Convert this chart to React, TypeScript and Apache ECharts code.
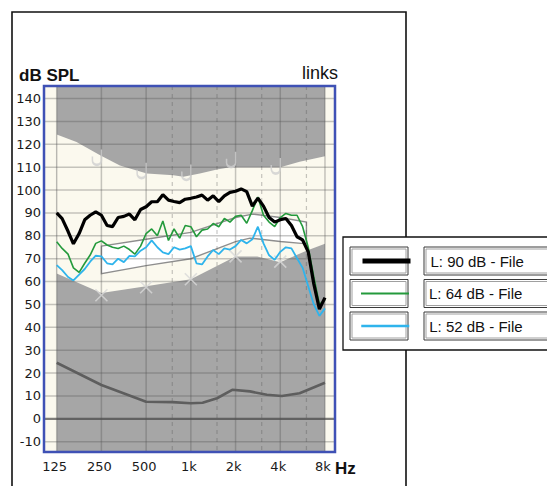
import React, { useEffect, useRef } from "react";
import * as echarts from "echarts";

// ---------- data ----------
const FREQ_TICKS = [125, 250, 500, 1000, 2000, 4000, 8000];
const FREQ_TICK_LABELS = ["125", "250", "500", "1k", "2k", "4k", "8k"];
const HALF_OCTAVE_FREQS = [750, 1500, 3000, 6000];
const DB_TICKS = [-10, 0, 10, 20, 30, 40, 50, 60, 70, 80, 90, 100, 110, 120, 130, 140];

const FREQS = [
  125, 136, 149, 162, 177, 193, 210, 229, 250, 273, 297, 324, 354, 386, 420, 459,
  500, 545, 595, 648, 707, 771, 841, 917, 1000, 1091, 1189, 1297, 1414, 1542, 1682, 1834,
  2000, 2181, 2378, 2594, 2828, 3084, 3364, 3668, 4000, 4362, 4757, 5187, 5657, 6169, 6727, 7336,
  8000,
];
const BLACK_DB = [
  90, 87.5, 82, 76.5, 81, 87, 89, 90.5, 89, 84.5, 84, 88, 88.5, 89.5, 87, 91.5,
  92.7, 94.9, 94.9, 98, 95.6, 95, 94.5, 96, 96.4, 97, 97.8, 95.6, 97.5, 95, 97.5, 99,
  99.5, 100.5, 99.3, 93, 96.5, 93, 88, 86, 87, 87.6, 84.5, 79.6, 78.2, 73, 59, 48,
  53,
];
const GREEN_DB = [
  77.4, 74.5, 72, 66, 64, 68, 71.6, 76.7, 77.8, 76, 75, 74.5, 75.5, 74, 72, 75.5,
  81, 83, 80, 86.5, 78, 83, 79, 84.5, 84, 79.6, 82.5, 83, 85.4, 84, 87.6, 86,
  88.5, 89, 85.5, 91, 97, 89, 86, 84, 88, 89.8, 89, 89, 84, 75, 62, 50,
  52,
];
const CYAN_DB = [
  67.2, 65, 62, 60.5, 63, 65.5, 68.7, 71.3, 71, 68, 67.5, 70, 68.5, 71.2, 71, 73.5,
  75, 78, 75, 72.8, 72, 75, 74, 74.5, 75.5, 68, 67.5, 71, 73.8, 72, 74.5, 74,
  75.5, 78.2, 76.7, 78.5, 84, 76.7, 71.5, 69.5, 73, 75, 74.5, 70.2, 66, 58, 50, 45,
  48.3,
];
const SERIES_NAMES = ["L: 90 dB - File", "L: 64 dB - File", "L: 52 dB - File"];

const THRESHOLD_FREQS = [125, 250, 500, 750, 1000, 1200, 1500, 1900, 2500, 3250, 4100, 5400, 8000];
const THRESHOLD_DB = [24.5, 14.8, 7.5, 7.3, 6.8, 7.0, 9, 12.7, 12, 10.5, 10, 11.2, 15.8];

const UCL_FREQS = [125, 170, 245, 333, 505, 763, 890, 1150, 1500, 1840, 4000, 5400, 8000];
const UCL_DB = [124.3, 121, 115.2, 110.8, 107.2, 106.5, 105.8, 107.2, 109, 110, 110, 112.4, 114.8];

const FLOOR_FREQS = [125, 250, 500, 1000, 2000, 2800, 4000, 6000, 8000];
const FLOOR_DB = [63.5, 55, 58, 61, 71, 71, 68.5, 73.5, 76.5];

const TARGET_UP_FREQS = [250, 500, 1000, 2000, 2600, 4000, 6000];
const TARGET_UP_DB = [75.5, 78.5, 81.5, 88, 89.5, 88, 86];
const TARGET_LO_FREQS = [250, 500, 1000, 2000, 2500, 4000, 6000];
const TARGET_LO_DB = [63.5, 67, 70, 77.5, 79, 77.5, 76.5];

const UCL_MARK_FREQS = [250, 500, 1000, 2000, 4000];
const UCL_MARK_DB = [111, 105.2, 104.4, 110, 107.2];
const TH_MARK_FREQS = [250, 500, 1000, 2000, 4000];
const TH_MARK_DB = [54, 57.5, 61, 71, 68.7];

// ---------- layout / style ----------
const X_MIN = -0.284;
const X_MAX = 6.224;
const Y_MIN = -14.5;
const Y_MAX = 145.5;
const GRID = { left: 44, top: 86, width: 291, height: 366 };
const CREAM = "#fbf9ee";
const GRAY = "#a6a6a6";
const GRID_LINE = "rgba(80,80,80,0.32)";
const ZERO_LINE = "rgba(60,60,60,0.65)";
const COLORS = ["#000000", "#249a3c", "#2fb4ec"];
const WIDTHS = [3.2, 1.6, 1.8];
const LEGEND_ICON_WIDTHS = [5, 2, 2.5];
const LEGEND_ROW_TOPS = [247, 279.5, 312];
const LABEL_FONT = "Liberation Sans";

const oct = (f: number) => Math.log2(f / 125);
const pairs = (fs: number[], vs: number[]) => fs.map((f, i) => [oct(f), vs[i]]);

export default function App() {
  const ref = useRef<HTMLDivElement>(null);

  useEffect(() => {
    if (!ref.current) return;
    const chart = echarts.init(ref.current, undefined, { renderer: "svg" });

    const bgRender = (params: any, api: any) => {
      const cs = params.coordSys;
      const c = (f: number, v: number) => api.coord([oct(f), v]);
      const x0 = c(125, 0)[0];
      const x1 = c(8000, 0)[0];
      const creamPts = [
        ...UCL_FREQS.map((f, i) => c(f, UCL_DB[i])),
        ...FLOOR_FREQS.map((f, i) => c(f, FLOOR_DB[i])).reverse(),
      ];
      const bandPts = [
        ...TARGET_UP_FREQS.map((f, i) => c(f, TARGET_UP_DB[i])),
        ...TARGET_LO_FREQS.map((f, i) => c(f, TARGET_LO_DB[i])).reverse(),
      ];
      return {
        type: "group",
        children: [
          { type: "rect", shape: { x: x0, y: cs.y, width: x1 - x0, height: cs.height }, style: { fill: GRAY } },
          { type: "polygon", shape: { points: creamPts }, style: { fill: CREAM } },
          { type: "polygon", shape: { points: bandPts }, style: { fill: "#ffffff", stroke: "#8e8e8e", lineWidth: 1.4 } },
        ],
      };
    };

    const gridRender = (params: any, api: any) => {
      const cs = params.coordSys;
      const children: any[] = [];
      DB_TICKS.forEach((v) => {
        const y = api.coord([0, v])[1];
        children.push({
          type: "line",
          shape: { x1: cs.x, y1: y, x2: cs.x + cs.width, y2: y },
          style: { stroke: v === 0 ? ZERO_LINE : GRID_LINE, lineWidth: v === 0 ? 2.2 : 1.5 },
        });
      });
      FREQ_TICKS.forEach((f) => {
        const x = api.coord([oct(f), 0])[0];
        children.push({
          type: "line",
          shape: { x1: x, y1: cs.y, x2: x, y2: cs.y + cs.height },
          style: { stroke: GRID_LINE, lineWidth: 1.5 },
        });
      });
      HALF_OCTAVE_FREQS.forEach((f) => {
        const x = api.coord([oct(f), 0])[0];
        children.push({
          type: "line",
          shape: { x1: x, y1: cs.y, x2: x, y2: cs.y + cs.height },
          style: { stroke: GRID_LINE, lineWidth: 1.2, lineDash: [4, 4] },
        });
      });
      return { type: "group", children };
    };

    const dataSeries = [2, 1, 0].map((i) => ({
      type: "line",
      name: SERIES_NAMES[i],
      data: pairs(FREQS, [BLACK_DB, GREEN_DB, CYAN_DB][i]),
      symbol: "none",
      color: COLORS[i],
      lineStyle: { color: COLORS[i], width: WIDTHS[i] },
      z: 10 - i,
      silent: true,
      clip: false,
    }));

    const legends = SERIES_NAMES.map((name, i) => ({
      data: [{ name, lineStyle: { width: LEGEND_ICON_WIDTHS[i] }, itemStyle: { opacity: 0 } }],
      left: 355,
      top: LEGEND_ROW_TOPS[i] + 1.5,
      itemWidth: 48,
      itemHeight: 12,
      selectedMode: false,
      textStyle: {
        fontFamily: LABEL_FONT,
        fontSize: 15,
        color: "#111",
        padding: [0, 0, 0, 15],
      },
    }));

    const legendBoxes: any[] = [
      {
        type: "rect",
        z: 1,
        shape: { x: 343, y: 237, width: 220, height: 113 },
        style: { fill: "#ffffff", stroke: "#111", lineWidth: 1.3 },
      },
    ];
    LEGEND_ROW_TOPS.forEach((t) => {
      [
        [350, 58],
        [424, 140],
      ].forEach(([x, w]) => {
        legendBoxes.push({
          type: "rect",
          z: 2,
          shape: { x, y: t, width: w, height: 28 },
          style: { fill: "#ffffff", stroke: "#3a3a3a", lineWidth: 1 },
        });
        legendBoxes.push({
          type: "rect",
          z: 2,
          shape: { x: x + 2, y: t + 2, width: w - 4, height: 24 },
          style: { fill: "none", stroke: "#a0a0a0", lineWidth: 1 },
        });
      });
    });

    chart.setOption({
      animation: false,
      title: [
        {
          text: "links",
          left: 302,
          top: 64,
          padding: 0,
          textStyle: { fontFamily: LABEL_FONT, fontSize: 18, fontWeight: "normal", color: "#111" },
        },
        {
          text: "dB SPL",
          left: 19,
          top: 67,
          padding: 0,
          textStyle: { fontFamily: LABEL_FONT, fontSize: 17, fontWeight: "bold", color: "#111" },
        },
        {
          text: "Hz",
          left: 335,
          top: 460,
          padding: 0,
          textStyle: { fontFamily: LABEL_FONT, fontSize: 17, fontWeight: "bold", color: "#111" },
        },
      ],
      legend: legends,
      grid: {
        ...GRID,
        show: true,
        backgroundColor: CREAM,
        borderWidth: 0,
        outerBoundsMode: "none",
      },
      xAxis: {
        type: "value",
        min: X_MIN,
        max: X_MAX,
        axisLine: { show: false },
        axisTick: { show: false },
        splitLine: { show: false },
        axisLabel: {
          customValues: FREQ_TICKS.map(oct),
          formatter: (v: number) => {
            const idx = FREQ_TICKS.findIndex((f) => Math.abs(oct(f) - v) < 1e-6);
            return idx >= 0 ? FREQ_TICK_LABELS[idx] : "";
          },
          fontFamily: "DejaVu Sans",
          fontSize: 13,
          color: "#1a1a1a",
          margin: 8,
          padding: [0, 4, 0, 0],
        },
      },
      yAxis: {
        type: "value",
        min: Y_MIN,
        max: Y_MAX,
        axisLine: { show: false },
        axisTick: { show: false },
        splitLine: { show: false },
        axisLabel: {
          customValues: DB_TICKS,
          fontFamily: "DejaVu Sans",
          fontSize: 13,
          color: "#1a1a1a",
          margin: 3,
        },
      },
      graphic: [
        {
          type: "rect",
          z: 0,
          shape: { x: 12, y: 12, width: 394, height: 520 },
          style: { fill: "none", stroke: "#111", lineWidth: 1.6 },
        },
        ...legendBoxes,
        {
          type: "rect",
          z: 20,
          shape: { x: GRID.left, y: GRID.top, width: GRID.width, height: GRID.height },
          style: { fill: "none", stroke: "#3f51b5", lineWidth: 2.5 },
        },
      ],
      series: [
        { type: "custom", name: "bg", renderItem: bgRender, data: [[0, 0]], z: 1, silent: true, clip: true },
        { type: "custom", name: "gridlines", renderItem: gridRender, data: [[0, 0]], z: 2, silent: true, clip: true },
        {
          type: "line",
          name: "threshold",
          data: pairs(THRESHOLD_FREQS, THRESHOLD_DB),
          symbol: "none",
          lineStyle: { color: "#5e5e5e", width: 2.6 },
          z: 3,
          silent: true,
        },
        {
          type: "scatter",
          name: "ucl-marks",
          data: pairs(UCL_MARK_FREQS, UCL_MARK_DB),
          symbol: "path://M9,0 L9,11 A4.5,4.5 0 0 1 0,11 L0,7",
          symbolSize: [9, 15.5],
          symbolOffset: [-4.5, -7.75],
          itemStyle: { color: "rgba(0,0,0,0)", borderColor: "#d0d0d0", borderWidth: 2 },
          z: 4,
          silent: true,
        },
        {
          type: "scatter",
          name: "th-marks",
          data: pairs(TH_MARK_FREQS, TH_MARK_DB),
          symbol: "path://M0,0 L12,12 M12,0 L0,12",
          symbolSize: 12,
          itemStyle: { color: "rgba(0,0,0,0)", borderColor: "#d8d8d8", borderWidth: 1.6 },
          z: 4,
          silent: true,
        },
        ...dataSeries,
      ],
    });

    return () => chart.dispose();
  }, []);

  return (
    <div
      ref={ref}
      style={{ position: "fixed", left: 0, top: 0, width: 547, height: 486, background: "#ffffff" }}
    />
  );
}
